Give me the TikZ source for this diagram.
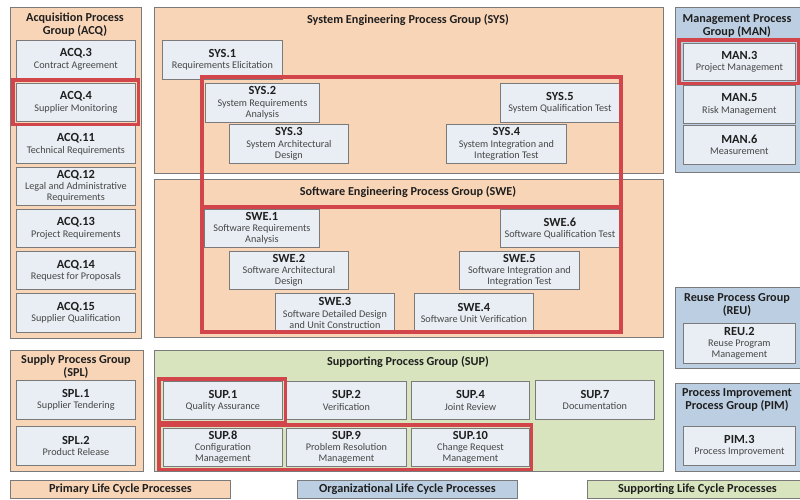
\documentclass[tikz,border=0pt]{standalone}
\usepackage{fontspec}
\setmainfont{Carlito}
\definecolor{peachc}{HTML}{F9D5B7}
\definecolor{bluec}{HTML}{BCCEE2}
\definecolor{greenc}{HTML}{D7E4BD}
\definecolor{boxc}{HTML}{E8EEF4}
\definecolor{redc}{HTML}{D2454A}
\definecolor{edgec}{HTML}{7A7A7A}
\definecolor{txtc}{HTML}{474747}
\newcommand{\bx}[2]{\textcolor{black!88}{\bfseries\fontsize{12.4}{13}\selectfont #1}\\[0.3pt]#2}
\tikzset{
  grp/.style={draw=edgec, line width=0.9pt, anchor=north west, inner sep=0pt},
  pgrp/.style={grp, fill=peachc},
  bgrp/.style={grp, fill=bluec},
  ggrp/.style={grp, fill=greenc},
  pbox/.style={draw=edgec, fill=boxc, line width=0.8pt, anchor=north west, align=center, inner sep=0pt, text=txtc, font=\fontsize{10.2}{11}\selectfont},
  gtitle/.style={font=\bfseries\fontsize{12.2}{13}\selectfont, align=center, inner sep=0pt, text=black!88},
  hl/.style={draw=redc, line width=3.2pt},
  leg/.style={draw=edgec, line width=0.9pt, anchor=north west, inner sep=0pt, font=\bfseries\fontsize{12.3}{13}\selectfont, text=black!88}
}
\begin{document}
\begin{tikzpicture}[x=1pt,y=-1pt]
\useasboundingbox (0,0) rectangle (800,499);
% ---------- ACQ ----------
\node[pgrp, minimum width=131, minimum height=331] (acq) at (10,7) {};
\node[gtitle] (acqt) at (75,25) {Acquisition Process\\Group (ACQ)};
\node[pbox, minimum width=119, minimum height=38] (acq3) at (16,40) {\bx{ACQ.3}{Contract Agreement}};
\node[pbox, minimum width=119, minimum height=38] (acq4) at (16,83) {\bx{ACQ.4}{Supplier Monitoring}};
\node[pbox, minimum width=119, minimum height=38] (acq11) at (16,125) {\bx{ACQ.11}{Technical Requirements}};
\node[pbox, minimum width=119, minimum height=38] (acq12) at (16,167) {\bx{ACQ.12}{Legal and Administrative\\Requirements}};
\node[pbox, minimum width=119, minimum height=38] (acq13) at (16,209) {\bx{ACQ.13}{Project Requirements}};
\node[pbox, minimum width=119, minimum height=38] (acq14) at (16,251) {\bx{ACQ.14}{Request for Proposals}};
\node[pbox, minimum width=119, minimum height=39] (acq15) at (16,293) {\bx{ACQ.15}{Supplier Qualification}};
\draw[hl] ([shift={(-3pt,3pt)}]acq4.north west) rectangle ([shift={(3pt,-3pt)}]acq4.south east);
% ---------- SYS ----------
\node[pgrp, minimum width=509, minimum height=166] (sys) at (154,7) {};
\node[gtitle] (syst) at (408,20) {System Engineering Process Group (SYS)};
\node[pbox, minimum width=120, minimum height=39] (sys1) at (162,40) {\bx{SYS.1}{Requirements Elicitation}};
\node[pbox, minimum width=114, minimum height=39] (sys2) at (205,83) {\bx{SYS.2}{System Requirements\\Analysis}};
\node[pbox, minimum width=119, minimum height=39] (sys3) at (229,124) {\bx{SYS.3}{System Architectural\\Design}};
\node[pbox, minimum width=120, minimum height=39] (sys4) at (446,124) {\bx{SYS.4}{System Integration and\\Integration Test}};
\node[pbox, minimum width=119, minimum height=39] (sys5) at (500,83) {\bx{SYS.5}{System Qualification Test}};
% ---------- SWE ----------
\node[pgrp, minimum width=509, minimum height=158] (swe) at (154,179) {};
\node[gtitle] (swet) at (408,192) {Software Engineering Process Group (SWE)};
\node[pbox, minimum width=115, minimum height=38] (swe1) at (204,209) {\bx{SWE.1}{Software Requirements\\Analysis}};
\node[pbox, minimum width=119, minimum height=38] (swe2) at (229,251) {\bx{SWE.2}{Software Architectural\\Design}};
\node[pbox, minimum width=119, minimum height=39] (swe3) at (275,293) {\bx{SWE.3}{Software Detailed Design\\and Unit Construction}};
\node[pbox, minimum width=119, minimum height=39] (swe4) at (414,293) {\bx{SWE.4}{Software Unit Verification}};
\node[pbox, minimum width=120, minimum height=38] (swe5) at (459,251) {\bx{SWE.5}{Software Integration and\\Integration Test}};
\node[pbox, minimum width=119, minimum height=38] (swe6) at (500,209) {\bx{SWE.6}{Software Qualification Test}};
% big red frame
\draw[hl] (202,77) rectangle (621,332);
\draw[hl] (202,207) -- (621,207);
% ---------- MAN ----------
\node[bgrp, minimum width=130, minimum height=165] (man) at (675,7) {};
\node[gtitle] (mant) at (737,26) {Management Process\\Group (MAN)};
\node[pbox, minimum width=112, minimum height=37] (man3) at (683,43) {\bx{MAN.3}{Project Management}};
\node[pbox, minimum width=112, minimum height=38] (man5) at (683,85) {\bx{MAN.5}{Risk Management}};
\node[pbox, minimum width=112, minimum height=39] (man6) at (683,125) {\bx{MAN.6}{Measurement}};
\draw[hl] ([shift={(-4pt,3pt)}]man3.north west) rectangle ([shift={(3pt,-3pt)}]man3.south east);
% ---------- REU ----------
\node[bgrp, minimum width=130, minimum height=81] (reu) at (675,287) {};
\node[gtitle] (reut) at (737,305) {Reuse Process Group\\(REU)};
\node[pbox, minimum width=112, minimum height=40] (reu2) at (683,323) {\bx{REU.2}{Reuse Program\\Management}};
% ---------- PIM ----------
\node[bgrp, minimum width=130, minimum height=88] (pim) at (675,383) {};
\node[gtitle] (pimt) at (737,400) {Process Improvement\\Process Group (PIM)};
\node[pbox, minimum width=112, minimum height=39] (pim3) at (683,426) {\bx{PIM.3}{Process Improvement}};
% ---------- SPL ----------
\node[pgrp, minimum width=133, minimum height=121] (spl) at (10,350) {};
\node[gtitle] (splt) at (76,367) {Supply Process Group\\(SPL)};
\node[pbox, minimum width=119, minimum height=39] (spl1) at (16,380) {\bx{SPL.1}{Supplier Tendering}};
\node[pbox, minimum width=119, minimum height=39] (spl2) at (16,426) {\bx{SPL.2}{Product Release}};
% ---------- SUP ----------
\node[ggrp, minimum width=509, minimum height=121] (sup) at (154,350) {};
\node[gtitle] (supt) at (408,362) {Supporting Process Group (SUP)};
\node[pbox, minimum width=119, minimum height=38] (sup1) at (163,381) {\bx{SUP.1}{Quality Assurance}};
\node[pbox, minimum width=120, minimum height=38] (sup2) at (286,381) {\bx{SUP.2}{Verification}};
\node[pbox, minimum width=118, minimum height=38] (sup4) at (411,381) {\bx{SUP.4}{Joint Review}};
\node[pbox, minimum width=119, minimum height=39] (sup7) at (535,380) {\bx{SUP.7}{Documentation}};
\node[pbox, minimum width=119, minimum height=38] (sup8) at (163,428) {\bx{SUP.8}{Configuration\\Management}};
\node[pbox, minimum width=120, minimum height=38] (sup9) at (286,428) {\bx{SUP.9}{Problem Resolution\\Management}};
\node[pbox, minimum width=118, minimum height=38] (sup10) at (411,428) {\bx{SUP.10}{Change Request\\Management}};
\draw[hl] ([shift={(-4pt,2pt)}]sup1.north west) rectangle ([shift={(3pt,-3pt)}]sup1.south east);
\draw[hl] ([shift={(-4pt,3pt)}]sup8.north west) rectangle ([shift={(2pt,-3pt)}]sup10.south east);
% ---------- Legend ----------
\node[leg, fill=peachc, minimum width=220, minimum height=18] (lprim) at (10,480) {Primary Life Cycle Processes};
\node[leg, fill=bluec, minimum width=220, minimum height=18] (lorg) at (297,480) {Organizational Life Cycle Processes};
\node[leg, fill=greenc, minimum width=220, minimum height=18] (lsup) at (587,480) {Supporting Life Cycle Processes};
\end{tikzpicture}
\end{document}
